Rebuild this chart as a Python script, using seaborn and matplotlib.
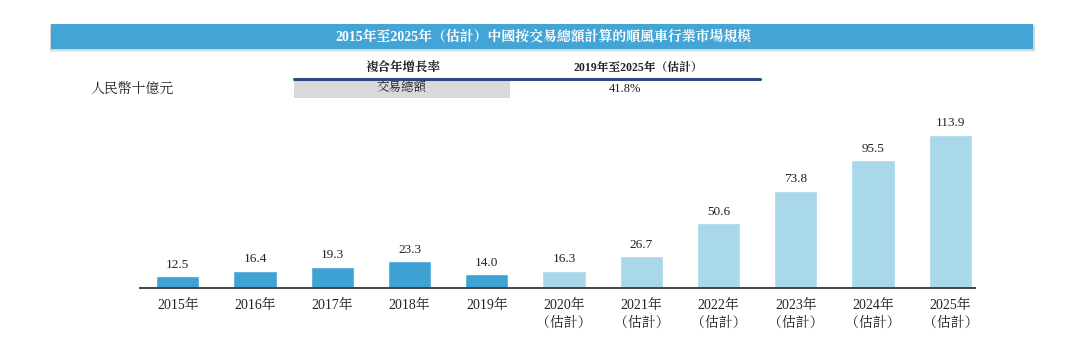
import matplotlib
matplotlib.use("Agg")
import matplotlib.pyplot as plt
import seaborn as sns
import pandas as pd
from matplotlib.patches import Rectangle

# ---- data ----
years = ["2015", "2016", "2017", "2018", "2019", "2020", "2021", "2022", "2023", "2024", "2025"]
values = [12.5, 16.4, 19.3, 23.3, 14.0, 16.3, 26.7, 50.6, 73.8, 95.5, 113.9]
estimated = [False] * 5 + [True] * 6
tick_labels = [y + "年" + ("\n（估計）" if e else "") for y, e in zip(years, estimated)]

title = "2015年至2025年（估計）中國按交易總額計算的順風車行業市場規模"
unit_label = "人民幣十億元"
cagr_header = "複合年增長率"
period_header = "2019年至2025年（估計）"
metric_name = "交易總額"
cagr_value = "41.8%"

# ---- style ----
sns.set_theme(style="white")
FONT = ["Liberation Serif", "Noto Serif CJK TC", "Noto Sans CJK TC", "DejaVu Sans"]
plt.rcParams["font.family"] = FONT

DARK = "#3fa2d4"
LIGHT = "#a8d8e9"
BAR_TITLE = "#42a5d6"
NAVY = "#2b4a7e"
GREY_BOX = "#d9d9d9"
TEXT = "#222222"

W, H = 1080, 347
fig = plt.figure(figsize=(W / 100, H / 100), dpi=100)


def fx(px):
    return px / W


def fy(py):
    return 1 - py / H


# title banner with a soft shadow
for i, a in enumerate([0.05, 0.05, 0.04, 0.03]):
    fig.patches.append(Rectangle((fx(51 - 1), fy(49 + 1 + i)), fx(983 + 2), fy(0) - fy(26),
                                 transform=fig.transFigure, facecolor="#000000", alpha=a,
                                 edgecolor="none", zorder=0))
fig.patches.append(Rectangle((fx(51), fy(49)), fx(982), fy(0) - fy(25),
                             transform=fig.transFigure, facecolor=BAR_TITLE,
                             edgecolor="none", zorder=1))
fig.text(fx(543), fy(37), title, color="white", fontsize=10, fontweight="bold",
         ha="center", va="center", zorder=2)

# CAGR table
fig.text(fx(403), fy(68), cagr_header, fontsize=9, fontweight="bold", color=TEXT,
         ha="center", va="center")
fig.text(fx(638), fy(68), period_header, fontsize=8.5, fontweight="bold", color=TEXT,
         ha="center", va="center")
fig.lines.append(plt.Line2D([fx(294), fx(760)], [fy(78.5), fy(78.5)], transform=fig.transFigure,
                            color=NAVY, linewidth=2.2))
fig.patches.append(Rectangle((fx(294), fy(98)), fx(216), fy(0) - fy(17.5),
                             transform=fig.transFigure, facecolor=GREY_BOX, edgecolor="none"))
fig.text(fx(402), fy(88.5), metric_name, fontsize=9, color=TEXT, ha="center", va="center")
fig.text(fx(625), fy(88.5), cagr_value, fontsize=9, color=TEXT, ha="center", va="center")
fig.text(fx(132), fy(88.5), unit_label, fontsize=10, color=TEXT, ha="center", va="center")

# ---- bar chart ----
ax_left, ax_right, ax_bottom, ax_top = 140, 975, 288, 110
ax = fig.add_axes([fx(ax_left), fy(ax_bottom), fx(ax_right - ax_left), fy(ax_top) - fy(ax_bottom)])

df = pd.DataFrame({"year": tick_labels, "value": values,
                   "kind": ["est" if e else "act" for e in estimated]})
sns.barplot(data=df, x="year", y="value", hue="kind", palette={"act": DARK, "est": LIGHT},
            dodge=False, width=0.56, legend=False, ax=ax, saturation=1)

for c in ax.containers:
    ax.bar_label(c, fmt="%.1f", padding=4, fontsize=9.5, color=TEXT)

ax.set_xlim(-0.49, 10.32)
ax.set_ylim(4.15, 131.5)
ax.set_xlabel("")
ax.set_ylabel("")
ax.set_yticks([])
ax.tick_params(axis="x", length=0, pad=8, labelsize=10, colors=TEXT)
for s in ["top", "left", "right"]:
    ax.spines[s].set_visible(False)
ax.spines["bottom"].set_color("#444444")
ax.spines["bottom"].set_linewidth(1.4)
for lbl in ax.get_xticklabels():
    lbl.set_linespacing(1.45)

fig.savefig("out.png", dpi=100, facecolor="white")
